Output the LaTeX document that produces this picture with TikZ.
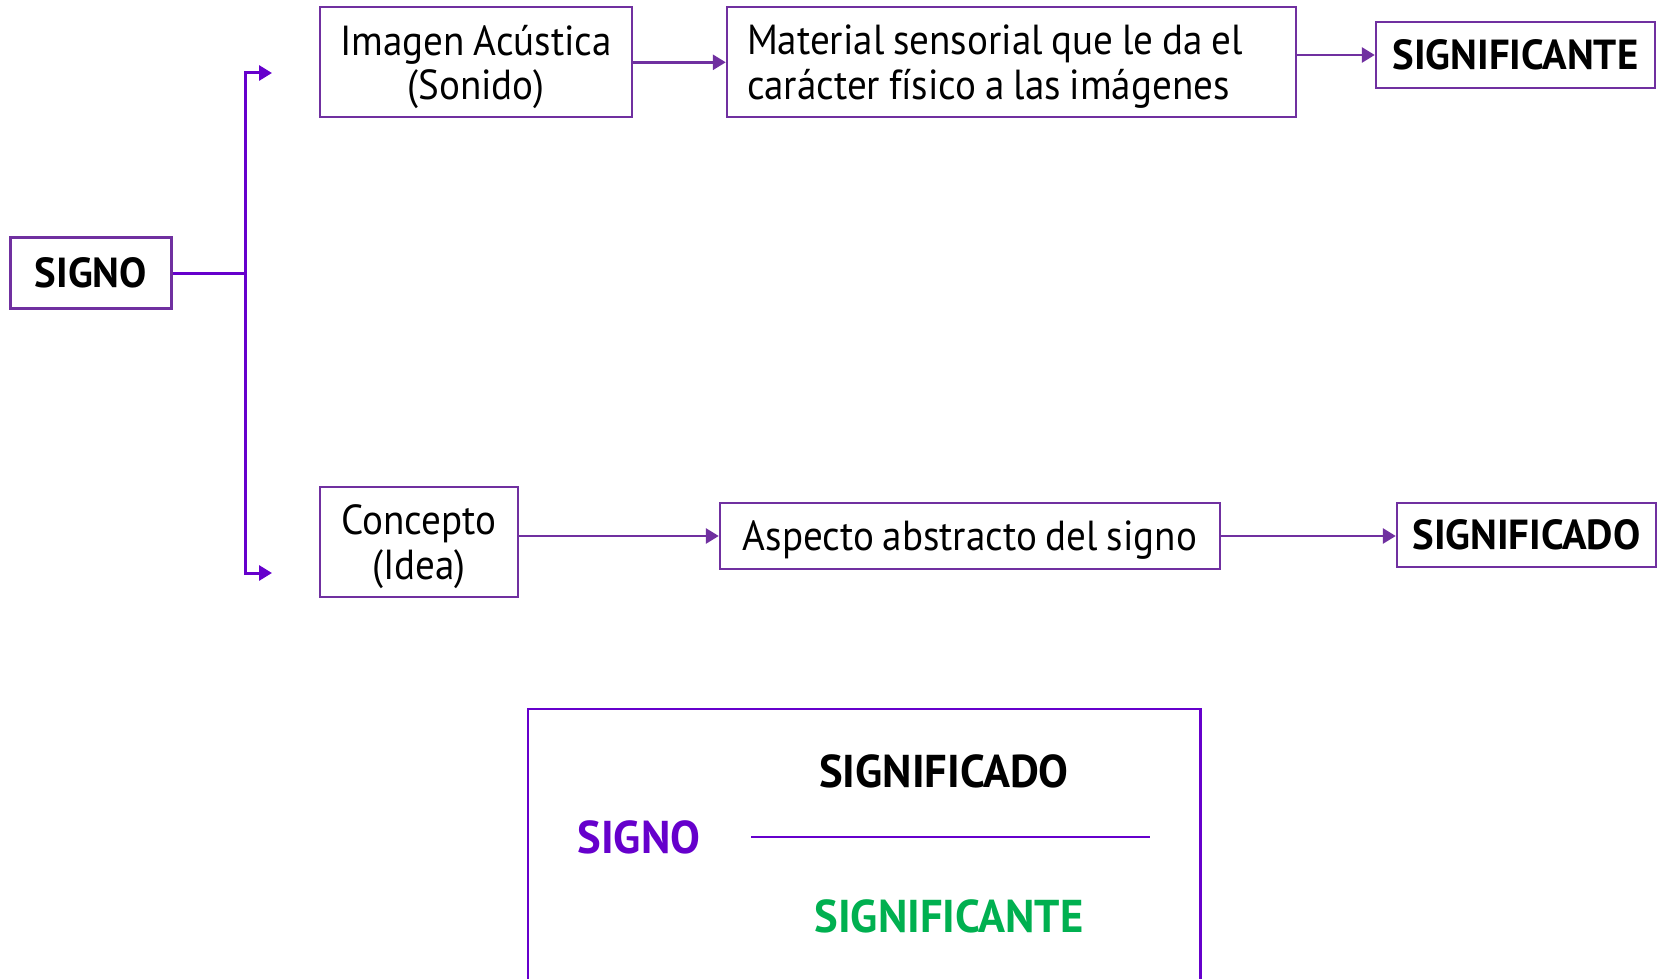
\documentclass[tikz,border=0pt]{standalone}
\usepackage{fontspec}
\setmainfont[FakeStretch=0.93,WordSpace=0.85]{PT Sans}
\newfontfamily\boldfam[FakeStretch=0.97]{PT Sans}
\usetikzlibrary{arrows.meta}
\definecolor{boxpurple}{HTML}{7030A0}
\definecolor{linkpurple}{HTML}{6600CC}
\definecolor{signgreen}{HTML}{00B050}
\tikzset{
  box/.style={draw=boxpurple, line width=2.4pt, inner sep=0pt, align=center,
    text depth=0pt, font=\fontsize{42}{44.5}\selectfont},
  boldbox/.style={box, text depth=, font=\fontsize{42}{44.5}\boldfam\bfseries},
  bigbold/.style={font=\fontsize{46}{50}\boldfam\bfseries},
  link/.style={draw=boxpurple, line width=2.8pt, -{Triangle[length=13pt,width=15pt]}},
  bracket/.style={draw=linkpurple, line width=3pt},
}
\begin{document}
\begin{tikzpicture}[x=1pt,y=-1pt]
\useasboundingbox (0,0) rectangle (1657,979);
% nodes
\node[boldbox, minimum width=161pt, minimum height=71pt] (signo) at (91,273) {SIGNO};
\node[box, minimum width=312pt, minimum height=110pt] (imagen) at (476,62.3) {Imagen Acústica\\(Sonido)};
\node[box, minimum width=569pt, minimum height=110pt, text width=529pt, align=flush left, text depth=44.5pt] (material) at (1011.5,62.3) {Material sensorial que le da el\\carácter físico a las imágenes};
\node[boldbox, minimum width=279pt, minimum height=66pt] (ste) at (1515.5,55) {SIGNIFICANTE};
\node[box, minimum width=198pt, minimum height=110pt] (concepto) at (419,542) {Concepto\\(Idea)};
\node[box, minimum width=500pt, minimum height=66pt] (aspecto) at (970,536) {Aspecto abstracto del signo};
\node[boldbox, minimum width=259pt, minimum height=64pt] (sdo) at (1526.5,535) {SIGNIFICADO};
% bracket
\coordinate (j) at (245,273);
\coordinate (ta) at (272,73);
\coordinate (ba) at (272,573);
\draw[bracket] (signo.east) -- (j);
\draw[bracket, -{Triangle[length=13pt,width=15pt]}] (j) |- (ta);
\draw[bracket, -{Triangle[length=13pt,width=15pt]}] (j) |- (ba);
% links
\draw[link] (imagen.east) -- (material.west);
\draw[link] (material.east |- ste.west) -- (ste.west);
\draw[link] (concepto.east |- aspecto.west) -- (aspecto.west);
\draw[link] (aspecto.east) -- (sdo.west |- aspecto.east);
% bottom box
\draw[draw=linkpurple, line width=2.6pt] (528,985) -- (528,709) -- (1200.5,709) -- (1200.5,985);
\node[bigbold] (bsdo) at (944,771) {SIGNIFICADO};
\node[bigbold, text=linkpurple] (bsigno) at (639,837) {SIGNO};
\node[bigbold, text=signgreen] (bste) at (949,916) {SIGNIFICANTE};
\coordinate (fl) at (751,837);
\coordinate (fr) at (1150,837);
\draw[draw=linkpurple, line width=2.4pt] (fl) -- (fr);
\end{tikzpicture}
\end{document}
